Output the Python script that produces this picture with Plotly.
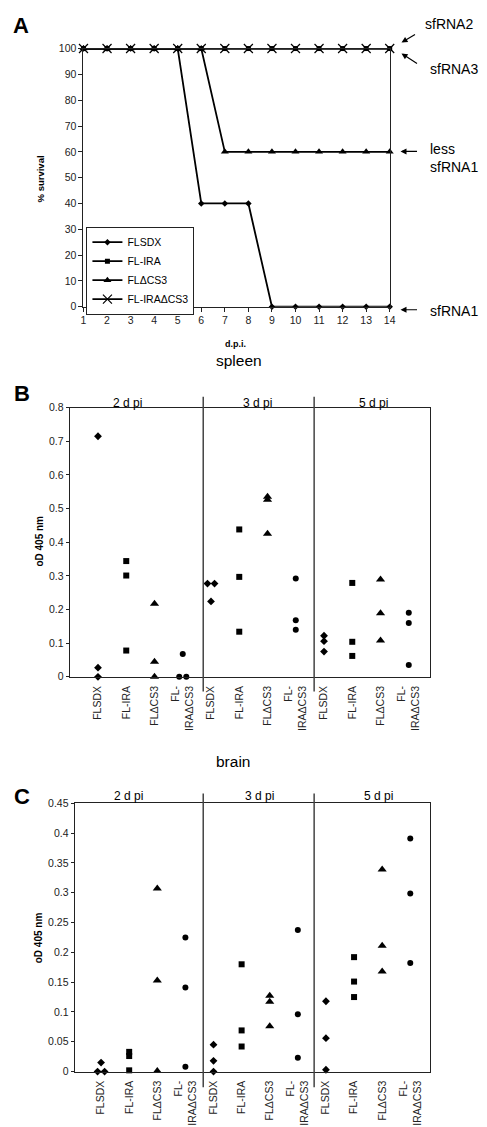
import plotly.graph_objects as go

# ---------------- data ----------------
days = [1, 2, 3, 4, 5, 6, 7, 8, 9, 10, 11, 12, 13, 14]
surv_flsdx = [100, 100, 100, 100, 100, 40, 40, 40, 0, 0, 0, 0, 0, 0]
surv_flira = [100, 100, 100, 100, 100, 100, 100, 100, 100, 100, 100, 100, 100, 100]
surv_fldcs3 = [100, 100, 100, 100, 100, 100, 60, 60, 60, 60, 60, 60, 60, 60]
surv_fliradcs3 = [100, 100, 100, 100, 100, 100, 100, 100, 100, 100, 100, 100, 100, 100]

strains = ["FLSDX", "FL-IRA", "FLΔCS3", "FL-IRAΔCS3"]
strain_ticks = ["FLSDX", "FL-IRA", "FLΔCS3", "FL-<br>IRAΔCS3"]
timepoints = ["2 d pi", "3 d pi", "5 d pi"]

# spleen OD405, per strain: [2 d pi, 3 d pi, 5 d pi] replicates
spleen_flsdx = [[0.715, 0.027, 0.0], [0.277, 0.277, 0.224], [0.122, 0.106, 0.075]]
spleen_flira = [[0.344, 0.301, 0.078], [0.438, 0.297, 0.134], [0.279, 0.104, 0.062]]
spleen_fldcs3 = [[0.217, 0.045, 0.0], [0.535, 0.526, 0.425], [0.289, 0.189, 0.108]]
spleen_fliradcs3 = [[0.068, 0.0, 0.0], [0.292, 0.168, 0.140], [0.190, 0.160, 0.035]]

# brain OD405
brain_flsdx = [[0.015, 0.0, 0.0], [0.045, 0.018, 0.0], [0.118, 0.056, 0.003]]
brain_flira = [[0.033, 0.026, 0.002], [0.180, 0.069, 0.042], [0.192, 0.151, 0.125]]
brain_fldcs3 = [[0.307, 0.153, 0.001], [0.127, 0.117, 0.076], [0.339, 0.211, 0.168]]
brain_fliradcs3 = [[0.225, 0.141, 0.008], [0.2375, 0.096, 0.023], [0.391, 0.299, 0.182]]

spleen_ticks = ["0", "0.1", "0.2", "0.3", "0.4", "0.5", "0.6", "0.7", "0.8"]
brain_ticks = ["0", "0.05", "0.1", "0.15", "0.2", "0.25", "0.3", "0.35", "0.4", "0.45"]

# ---------------- layout helpers ----------------
W, H = 487, 1127
def X(px):
    return px / W
def Y(py):
    return 1 - py / H

FONT = "Arial, Liberation Sans, sans-serif"
symbols_a = ["diamond", "square", "triangle-up", "x-thin"]
sizes_a = [5, 5, 7, 9]
symbols_b = ["diamond", "square", "triangle-up", "circle"]
sizes_b = [6, 6, 8, 6]

fig = go.Figure()

# ---------------- panel A ----------------
surv = [surv_flsdx, surv_flira, surv_fldcs3, surv_fliradcs3]
for i, name in enumerate(strains):
    fig.add_trace(go.Scatter(
        x=days, y=surv[i], mode="lines+markers", name=name,
        line=dict(color="black", width=1.8),
        marker=dict(symbol=symbols_a[i], size=sizes_a[i], color="black",
                    line=dict(color="black", width=1.2 if i == 3 else 0)),
        cliponaxis=False, xaxis="x", yaxis="y", showlegend=True))

# ---------------- panels B / C ----------------
def jitter(vals):
    offs = []
    for i, v in enumerate(vals):
        same = [j for j, w in enumerate(vals) if w == v]
        if len(same) > 1:
            k = same.index(i)
            n = len(same)
            offs.append((k - (n - 1) / 2) * 0.25)
        else:
            offs.append(0.0)
    return offs

def add_od(groups, xa, ya):
    for s, g in enumerate(groups):
        xs, ys = [], []
        for t, vals in enumerate(g):
            pos = t * 4 + s + 1
            for v, o in zip(vals, jitter(vals)):
                xs.append(pos + o)
                ys.append(v)
        fig.add_trace(go.Scatter(
            x=xs, y=ys, mode="markers", showlegend=False,
            marker=dict(symbol=symbols_b[s], size=sizes_b[s], color="black"),
            cliponaxis=False, xaxis=xa, yaxis=ya))

add_od([spleen_flsdx, spleen_flira, spleen_fldcs3, spleen_fliradcs3], "x2", "y2")
add_od([brain_flsdx, brain_flira, brain_fldcs3, brain_fliradcs3], "x3", "y3")

cat_vals = list(range(1, 13))
cat_text = strain_ticks * 3

tickfont = dict(family=FONT, size=10.5, color="#222")
axis_common = dict(showline=True, linecolor="#222", linewidth=1, mirror=True,
                   showgrid=False, zeroline=False, tickfont=tickfont)

fig.update_layout(
    width=W, height=H, margin=dict(l=0, r=0, t=0, b=0),
    paper_bgcolor="white", plot_bgcolor="white",
    font=dict(family=FONT, color="black"),
    xaxis=dict(domain=[X(82), X(394)], range=[1, 14], tickvals=days,
               ticks="outside", ticklen=4, tickcolor="#222", anchor="y", **axis_common),
    yaxis=dict(domain=[Y(304), Y(43)], range=[0, 100], dtick=10,
               ticks="outside", ticklen=4, tickcolor="#222", anchor="x", **axis_common),
    xaxis2=dict(domain=[X(68), X(435)], range=[0, 12.75], tickvals=cat_vals,
                ticktext=cat_text, tickangle=-90, ticks="", ticklabelstandoff=4,
                anchor="y2", **axis_common),
    yaxis2=dict(domain=[Y(678), Y(406)], range=[0, 0.8],
                tickvals=[float(t) for t in spleen_ticks], ticktext=spleen_ticks,
                ticks="outside", ticklen=3, tickcolor="#222", anchor="x2", **axis_common),
    xaxis3=dict(domain=[X(73), X(435)], range=[0.06, 12.7], tickvals=cat_vals,
                ticktext=cat_text, tickangle=-90, ticks="", ticklabelstandoff=4,
                anchor="y3", **axis_common),
    yaxis3=dict(domain=[Y(1077), Y(806)], range=[0, 0.45],
                tickvals=[float(t) for t in brain_ticks], ticktext=brain_ticks,
                ticks="outside", ticklen=3, tickcolor="#222", anchor="x3", **axis_common),
    legend=dict(x=X(85), y=Y(223), xanchor="left", yanchor="top",
                bgcolor="white", bordercolor="#222", borderwidth=1,
                font=dict(family=FONT, size=10.5, color="black"),
                tracegroupgap=0, itemwidth=30),
)

# separators
shapes = []
for px in (204, 317):
    shapes.append(dict(type="line", xref="paper", yref="paper", x0=X(px), x1=X(px),
                       y0=Y(693), y1=Y(395), line=dict(color="#444", width=1.5)))
    shapes.append(dict(type="line", xref="paper", yref="paper", x0=X(px), x1=X(px),
                       y0=Y(1093), y1=Y(796), line=dict(color="#444", width=1.5)))
fig.update_layout(shapes=shapes)

ann = []
def txt(t, px, py, size, bold=False, xanchor="center", angle=0, align="center"):
    ann.append(dict(text=("<b>%s</b>" % t) if bold else t, x=X(px), y=Y(py),
                    xref="paper", yref="paper", showarrow=False, xanchor=xanchor,
                    yanchor="middle", textangle=angle, align=align,
                    font=dict(family=FONT, size=size, color="black")))

txt("A", 18, 20, 22, bold=True)
txt("B", 19, 392, 22, bold=True)
txt("C", 19, 799, 22, bold=True)
txt("% survival", 38, 175, 9.5, bold=True, angle=-90)
txt("d.p.i.", 237, 342, 9, bold=True)
txt("spleen", 240, 358, 15.5)
txt("brain", 234, 764, 15.5)
txt("oD 405 nm", 37, 541, 10, bold=True, angle=-90)
txt("oD 405 nm", 37, 942, 10, bold=True, angle=-90)
for t, cx in zip(timepoints, (127, 259, 377)):
    txt(t, cx, 401, 12)
for t, cx in zip(timepoints, (128, 261, 383)):
    txt(t, cx, 799, 12)
txt("sfRNA2", 428, 18, 14, xanchor="left")
txt("sfRNA3", 433, 64, 14, xanchor="left")
txt("less<br>sfRNA1", 433, 154, 14, xanchor="left", align="left")
txt("sfRNA1", 433, 308, 14, xanchor="left")

def arrow(hx, hy, tx, ty):
    ann.append(dict(text="", x=X(hx), y=Y(hy), xref="paper", yref="paper",
                    ax=tx - hx, ay=ty - hy, axref="pixel", ayref="pixel",
                    showarrow=True, arrowhead=2, arrowsize=1, arrowwidth=1.2,
                    arrowcolor="black"))

arrow(406, 37, 421, 28)
arrow(406, 48, 423, 59)
arrow(405, 147, 423, 147)
arrow(405, 307, 423, 307)

fig.update_layout(annotations=ann)
fig.write_html("out.html", config={"displayModeBar": False},
               post_script="document.body.style.margin='0';document.body.style.overflow='hidden';")
